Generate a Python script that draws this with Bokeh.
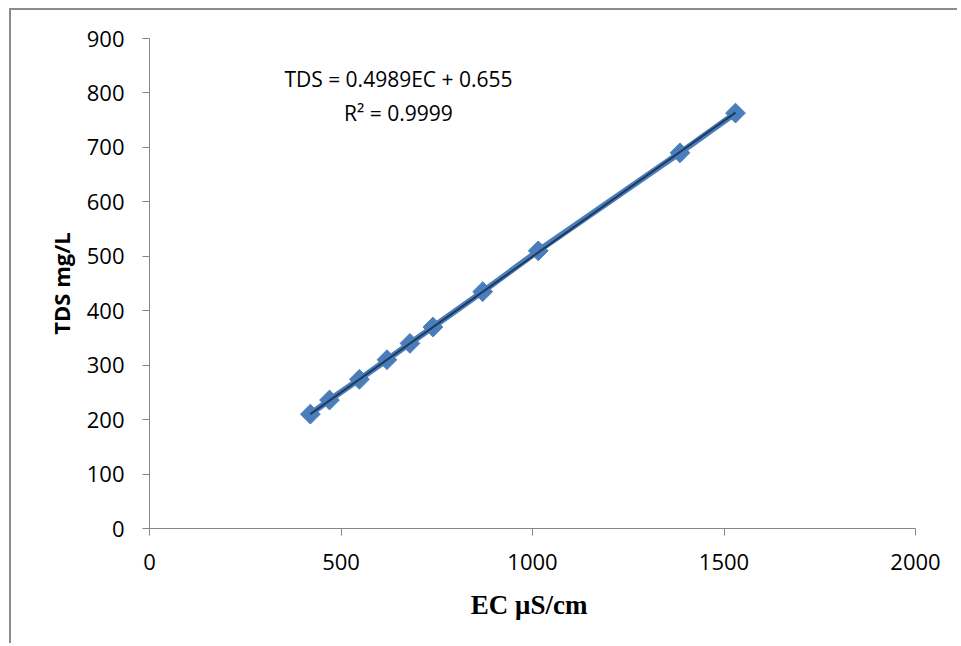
import numpy as np
from bokeh.plotting import figure
from bokeh.models import Range1d, FixedTicker, Label
from bokeh.embed import file_html
from bokeh.resources import INLINE

# ---- data ----
ec = [420, 470, 548, 620, 680, 740, 870, 1015, 1385, 1530]
tds = [210, 236, 274, 310, 340, 370, 435, 510, 690, 763]
slope = 0.4989
intercept = 0.655
x_ticks = [0, 500, 1000, 1500, 2000]
y_ticks = [0, 100, 200, 300, 400, 500, 600, 700, 800, 900]
eq_text = "TDS = 0.4989EC + 0.655"
r2_text = "R² = 0.9999"
x_title = "EC  μS/cm"
y_title = "TDS mg/L"

AXIS_GREY = "#868686"
BLUE = "#4a7ebb"
DARK = "#1f3a5c"

p = figure(width=948, height=635,
           x_range=Range1d(0, 2000), y_range=Range1d(0, 900),
           output_backend="svg", toolbar_location=None,
           min_border_left=138, min_border_right=44,
           min_border_top=28, min_border_bottom=117)
p.styles = {"border-left": "2px solid #8c8c8c", "border-top": "2px solid #8c8c8c",
            "margin-left": "9px", "margin-top": "8px"}
p.outline_line_color = None
p.xgrid.visible = False
p.ygrid.visible = False
p.background_fill_color = "white"

for ax in (p.xaxis[0], p.yaxis[0]):
    ax.axis_line_color = AXIS_GREY
    ax.axis_line_width = 1
    ax.major_tick_line_color = AXIS_GREY
    ax.major_tick_in = 0
    ax.major_tick_out = 7
    ax.minor_tick_line_color = None
    ax.major_label_text_font = "Open Sans"
    ax.major_label_text_font_size = "22px"
    ax.major_label_text_color = "black"

p.xaxis.ticker = FixedTicker(ticks=x_ticks)
p.yaxis.ticker = FixedTicker(ticks=y_ticks)
p.xaxis.major_label_standoff = 18
p.yaxis.major_label_standoff = 18

p.xaxis.axis_label = x_title
p.xaxis.axis_label_text_font = "Liberation Serif"
p.xaxis.axis_label_text_font_style = "bold"
p.xaxis.axis_label_text_font_size = "27px"
p.xaxis.axis_label_text_color = "black"
p.xaxis.axis_label_standoff = 17

p.yaxis.axis_label = y_title
p.yaxis.axis_label_text_font = "Open Sans"
p.yaxis.axis_label_text_font_style = "bold"
p.yaxis.axis_label_text_font_size = "22px"
p.yaxis.axis_label_text_color = "black"
p.yaxis.axis_label_standoff = 8

# series line + markers
p.line(ec, tds, line_color=BLUE, line_width=6)
p.scatter(ec, tds, marker="square", size=14, angle=np.pi / 4,
          fill_color=BLUE, line_color=BLUE)

# trendline
xt = np.array([min(ec), max(ec)], dtype=float)
p.line(xt, slope * xt + intercept, line_color=DARK, line_width=2)

# equation labels
p.add_layout(Label(x=650, y=825, text=eq_text, text_align="center",
                   text_baseline="middle", text_font="Open Sans",
                   text_font_size="21px", text_color="black"))
p.add_layout(Label(x=650, y=764, text=r2_text, text_align="center",
                   text_baseline="middle", text_font="Open Sans",
                   text_font_size="21px", text_color="black"))

open("out.html", "w").write(file_html(p, INLINE))
